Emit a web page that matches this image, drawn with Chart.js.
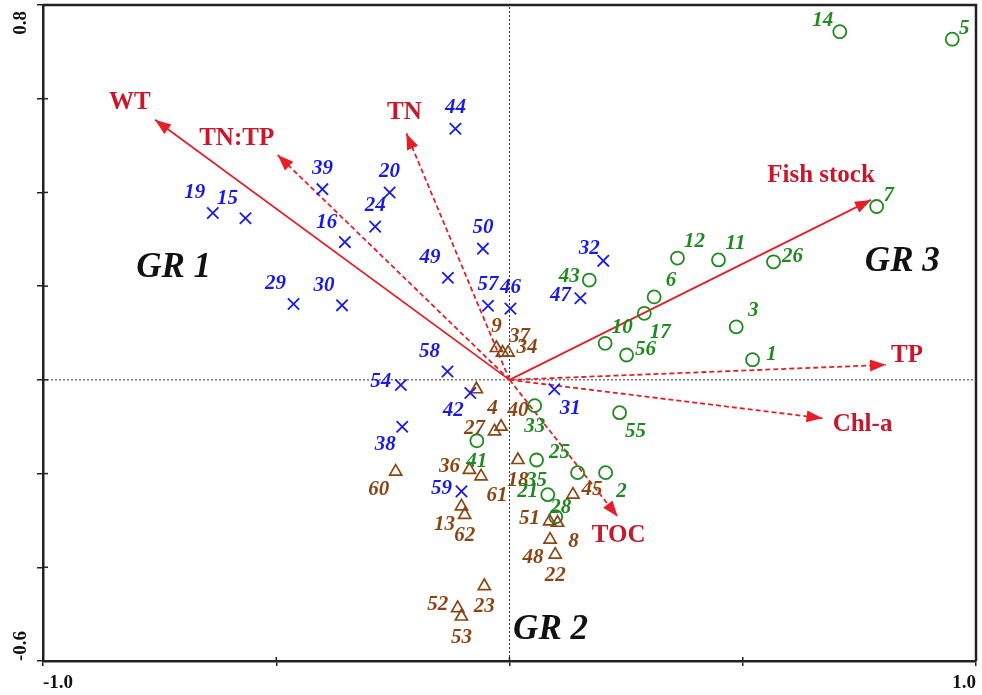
<!DOCTYPE html>
<html><head><meta charset="utf-8">
<script src="https://cdn.jsdelivr.net/npm/chart.js@4.4.1/dist/chart.umd.min.js"></script>
<style>html,body{margin:0;padding:0;background:#fff}</style>
</head><body>
<canvas id="c" width="982" height="695" style="width:982px;height:695px;display:block"></canvas>
<script>
// ---------- DATA ----------
// GR 1 sites (blue crosses)
const gr1Sites = ['19','15','39','20','24','16','29','30','44','50','49','57','46','32','47','58','54','42','38','59','31'];
const gr1X = [-0.636,-0.566,-0.401,-0.257,-0.288,-0.353,-0.463,-0.359,-0.116,-0.057,-0.132,-0.046,0.002,0.201,0.152,-0.133,-0.233,-0.084,-0.230,-0.103,0.096];
const gr1Y = [0.356,0.345,0.407,0.400,0.327,0.294,0.162,0.159,0.536,0.280,0.218,0.158,0.152,0.254,0.174,0.018,-0.011,-0.028,-0.100,-0.238,-0.020];
// GR 2 sites (brown triangles)
const gr2Sites = ['9','37','34','4','27','40','36','61','60','13','62','18','45','51','8','48','22','23','52','53'];
const gr2X = [-0.028,-0.015,-0.003,-0.071,-0.032,-0.018,-0.086,-0.061,-0.244,-0.103,-0.096,0.018,0.136,0.086,0.103,0.087,0.098,-0.054,-0.111,-0.103];
const gr2Y = [0.068,0.058,0.058,-0.020,-0.110,-0.100,-0.192,-0.206,-0.196,-0.270,-0.288,-0.171,-0.245,-0.302,-0.305,-0.341,-0.373,-0.440,-0.487,-0.505];
// GR 3 sites (green circles)
const gr3Sites = ['14','5','7','12','11','26','6','43','3','10','17','56','1','33','55','41','35','25','2','21','28'];
const gr3X = [0.708,0.949,0.787,0.360,0.448,0.566,0.310,0.171,0.486,0.205,0.289,0.251,0.521,0.054,0.236,-0.070,0.058,0.146,0.206,0.082,0.099];
const gr3Y = [0.743,0.727,0.370,0.260,0.256,0.252,0.177,0.213,0.113,0.078,0.142,0.053,0.043,-0.055,-0.070,-0.130,-0.171,-0.198,-0.198,-0.245,-0.292];
// Environmental vectors
const vecNames = ['WT','TN:TP','TN','Fish stock','TP','Chl-a','TOC'];
const vecX = [-0.760,-0.497,-0.221,0.775,0.807,0.671,0.232];
const vecY = [0.555,0.480,0.526,0.384,0.032,-0.082,-0.292];
const vecDashed = [false,true,true,false,true,true,true];
// Group labels
const groupNames = ['GR 1','GR 2','GR 3'];
const groupX = [-0.720,0.088,0.842];
const groupY = [0.239,-0.534,0.252];
// Tick labels
const xTickLabels = {'-1':'-1.0','1':'1.0'};
const yTickLabels = {'0.8':'0.8','-0.6':'-0.6'};

// ---------- LAYOUT (label placement, not data) ----------
const gr1Place = ['nw','nw','n','n','n','nw','nw','nw','n','n','nw','n','n','nw2','w','nw','w','sw','sw','w','se'];
const gr2Place = ['n','ne','e','se','w','ne','w','se','sw','sw','s','s','e','w','se','sw','s','s','w','s'];
const gr3Place = ['wn','ne2','ne2','ne','ne','e','ne','w','ne','ne','se','e','e','s','se','s','s','nw','se','w','nc'];
const NUDGE = {n:[0,-21],s:[0,21],e:[19,-5],w:[-20,-3],ne:[17,-16],ne2:[12,-11],nw:[-18,-20],wn:[-17,-11],nw2:[-14,-12],se:[16,19],sw:[-17,18],nc:[5,-9]};
const vecLabelNudge = [[-25,-17],[-41,-16],[-2,-21],[-50,-24],[21,-9],[40,6],[1,19]];

const BLUE = '#1a1ae6', BROWN = '#8b4513', GREEN = '#1f8a1f', RED = '#e3202a', RED_TXT = '#c8182c';
const SERIF = '"Liberation Serif", "Times New Roman", serif';

function pts(xs, ys){ return xs.map((x,i)=>({x:x,y:ys[i]})); }

const datasets = [];
datasets.push({type:'scatter', label:'GR 1', data:pts(gr1X,gr1Y), sites:gr1Sites, place:gr1Place, txtColor:BLUE,
  pointStyle:'crossRot', radius:8, borderColor:BLUE, backgroundColor:BLUE, borderWidth:1.8});
datasets.push({type:'scatter', label:'GR 2', data:pts(gr2X,gr2Y), sites:gr2Sites, place:gr2Place, txtColor:BROWN,
  pointStyle:'triangle', radius:7, borderColor:BROWN, backgroundColor:'rgba(0,0,0,0)', borderWidth:1.7});
datasets.push({type:'scatter', label:'GR 3', data:pts(gr3X,gr3Y), sites:gr3Sites, place:gr3Place, txtColor:GREEN,
  pointStyle:'circle', radius:6.5, borderColor:GREEN, backgroundColor:'rgba(0,0,0,0)', borderWidth:1.8});
vecNames.forEach((n,i)=>{
  datasets.push({type:'line', label:n, isVector:true, vecIndex:i, data:[{x:0,y:0},{x:vecX[i],y:vecY[i]}],
    borderColor:RED, borderWidth:1.8, borderDash: vecDashed[i]?[5,3]:[], pointRadius:0, fill:false, tension:0});
});
// zero reference lines (drawn beneath)
datasets.push({type:'line', label:'x0', data:[{x:0,y:-0.6},{x:0,y:0.8}], borderColor:'#333', borderWidth:1, borderDash:[2,2], pointRadius:0, fill:false});
datasets.push({type:'line', label:'y0', data:[{x:-1,y:0},{x:1,y:0}], borderColor:'#333', borderWidth:1, borderDash:[2,2], pointRadius:0, fill:false});

const overlay = {
  id:'overlay',
  afterDatasetsDraw(chart){
    const ctx = chart.ctx, ca = chart.chartArea, xs = chart.scales.x, ys = chart.scales.y;
    ctx.save();
    // frame top/right
    ctx.strokeStyle = '#222'; ctx.lineWidth = 2.5;
    ctx.beginPath(); ctx.moveTo(ca.left, ca.top); ctx.lineTo(ca.right, ca.top); ctx.lineTo(ca.right, ca.bottom); ctx.stroke();
    // inward half of the tick marks
    ctx.lineWidth = 1.5;
    ys.ticks.forEach(t=>{ const py = ys.getPixelForValue(t.value); ctx.beginPath(); ctx.moveTo(ca.left, py); ctx.lineTo(ca.left+5, py); ctx.stroke(); });
    xs.ticks.forEach(t=>{ const px = xs.getPixelForValue(t.value); ctx.beginPath(); ctx.moveTo(px, ca.bottom); ctx.lineTo(px, ca.bottom-4); ctx.stroke(); });
    // arrowheads + vector labels
    chart.data.datasets.forEach((ds,di)=>{
      if(!ds.isVector) return;
      const m = chart.getDatasetMeta(di);
      const p0 = m.data[0], p1 = m.data[1];
      const a = Math.atan2(p1.y-p0.y, p1.x-p0.x);
      const L = 16, W = 6;
      ctx.fillStyle = RED;
      ctx.beginPath();
      ctx.moveTo(p1.x, p1.y);
      ctx.lineTo(p1.x - L*Math.cos(a) + W*Math.sin(a), p1.y - L*Math.sin(a) - W*Math.cos(a));
      ctx.lineTo(p1.x - L*Math.cos(a) - W*Math.sin(a), p1.y - L*Math.sin(a) + W*Math.cos(a));
      ctx.closePath(); ctx.fill();
      const nd = vecLabelNudge[ds.vecIndex];
      ctx.fillStyle = RED_TXT; ctx.font = 'bold 25px ' + SERIF;
      ctx.textAlign = 'center'; ctx.textBaseline = 'middle';
      ctx.fillText(ds.label, p1.x + nd[0], p1.y + nd[1]);
    });
    // site labels
    chart.data.datasets.forEach((ds,di)=>{
      if(!ds.sites) return;
      const m = chart.getDatasetMeta(di);
      ctx.fillStyle = ds.txtColor; ctx.font = 'bold italic 21px ' + SERIF;
      ctx.textAlign = 'center'; ctx.textBaseline = 'middle';
      m.data.forEach((p,i)=>{
        const nd = NUDGE[ds.place[i]] || [0,-20];
        ctx.fillText(ds.sites[i], p.x + nd[0], p.y + nd[1]);
      });
    });
    // group labels
    ctx.fillStyle = '#111'; ctx.font = 'bold italic 35px ' + SERIF;
    ctx.textAlign = 'center'; ctx.textBaseline = 'middle';
    groupNames.forEach((g,i)=>{ ctx.fillText(g, xs.getPixelForValue(groupX[i]), ys.getPixelForValue(groupY[i])); });
    // y tick labels (rotated)
    ctx.fillStyle = '#111'; ctx.font = 'bold 19px ' + SERIF; ctx.textBaseline = 'middle';
    Object.keys(yTickLabels).forEach(k=>{
      const v = parseFloat(k), py = ys.getPixelForValue(v);
      ctx.save(); ctx.translate(21, py); ctx.rotate(-Math.PI/2);
      if (v === ys.max) { ctx.textAlign = 'right'; ctx.fillText(yTickLabels[k], -6, 0); }
      else { ctx.textAlign = 'left'; ctx.fillText(yTickLabels[k], 0, 0); }
      ctx.restore();
    });
    ctx.restore();
  }
};

new Chart(document.getElementById('c'), {
  type:'scatter',
  data:{datasets:datasets},
  options:{
    responsive:false, devicePixelRatio:1, animation:false,
    layout:{autoPadding:false, padding:{top:5,right:5,left:0,bottom:0}},
    plugins:{legend:{display:false}, tooltip:{enabled:false}},
    scales:{
      x:{type:'linear', min:-1, max:1,
        ticks:{stepSize:0.5, autoSkip:false, maxRotation:0, align:'inner', padding:6, color:'#111',
          font:{family:SERIF, size:19, weight:'bold'},
          callback:(v)=> xTickLabels[String(Math.round(v*10)/10)] || ''},
        grid:{drawOnChartArea:false, drawTicks:true, tickLength:5, color:'#222', lineWidth:1.5},
        border:{display:true, color:'#222', width:2.5},
        afterFit:(s)=>{ s.height = 34; }
      },
      y:{type:'linear', min:-0.6, max:0.8,
        ticks:{stepSize:0.2, display:false},
        grid:{drawOnChartArea:false, drawTicks:true, tickLength:6, color:'#222', lineWidth:1.5},
        border:{display:true, color:'#222', width:2.5},
        afterFit:(s)=>{ s.width = 43; }
      }
    }
  },
  plugins:[overlay]
});
</script>
</body></html>
